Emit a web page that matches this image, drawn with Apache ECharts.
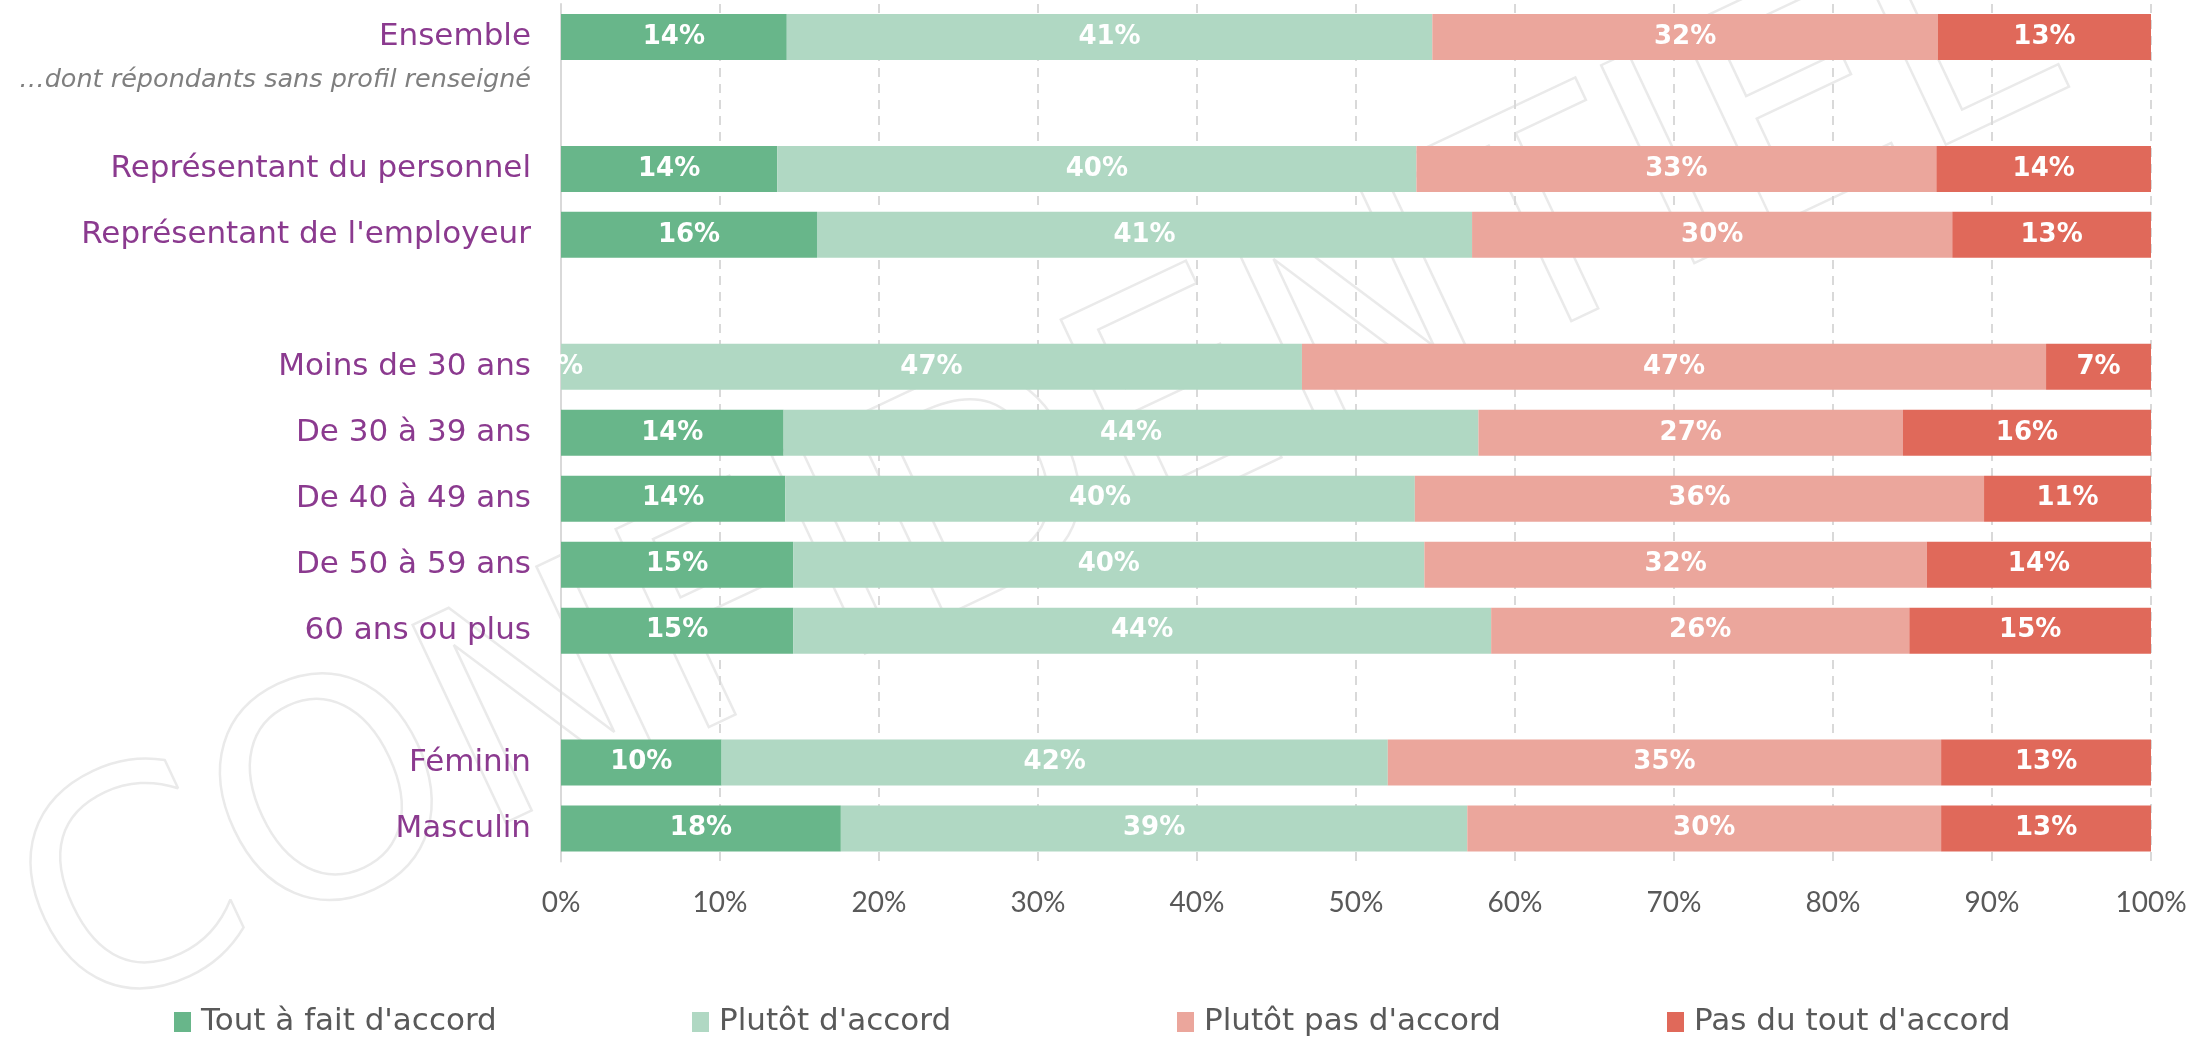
<!DOCTYPE html>
<html><head><meta charset="utf-8">
<script src="https://cdn.jsdelivr.net/npm/echarts@6/dist/echarts.min.js"></script>
<style>html,body{margin:0;padding:0;background:#fff}#c{width:2202px;height:1045px}</style>
</head><body><div id="c"></div>
<script>
const categories = ['Ensemble', '…dont répondants sans profil renseigné', 'Représentant du personnel', "Représentant de l'employeur", ' ', 'Moins de 30 ans', 'De 30 à 39 ans', 'De 40 à 49 ans', 'De 50 à 59 ans', '60 ans ou plus', '  ', 'Féminin', 'Masculin'];
const seriesNames = ["Tout à fait d'accord", "Plutôt d'accord", "Plutôt pas d'accord", "Pas du tout d'accord"];
const toutAFait = [14.2, null, 13.6, 16.1, null, 0, 14.0, 14.1, 14.6, 14.6, null, 10.1, 17.6];
const plutot    = [40.6, null, 40.2, 41.2, null, 46.6, 43.7, 39.6, 39.7, 43.9, null, 41.9, 39.4];
const plutotPas = [31.8, null, 32.7, 30.2, null, 46.8, 26.7, 35.8, 31.6, 26.3, null, 34.8, 29.8];
const pasDuTout = [13.4, null, 13.5, 12.5, null, 6.6, 15.6, 10.5, 14.1, 15.2, null, 13.2, 13.2];
const colors = ['#68B68A', '#B0D8C3', '#EBA69C', '#E0695A'];
const legendLefts = [174, 692, 1177, 1667];
const watermarkText = 'CONFIDENTIEL';

const FONT = 'DejaVu Sans';
const TICKFONT = 'Lato';
const values = [toutAFait, plutot, plutotPas, pasDuTout];

const series = seriesNames.map((name, i) => ({
  name: name,
  type: 'bar',
  stack: 'total',
  barWidth: 46,
  data: values[i],
  itemStyle: { color: colors[i] },
  label: {
    show: true,
    position: 'inside',
    color: '#fff',
    fontFamily: FONT,
    fontWeight: 'bold',
    fontSize: 26,
    formatter: p => (p.value == null ? '' : Math.round(p.value) + '%')
  }
}));

const legends = seriesNames.map((name, i) => ({
  data: [name],
  left: legendLefts[i],
  top: 1006,
  padding: 0,
  itemWidth: 17,
  itemHeight: 20,
  itemGap: 10,
  icon: 'rect',
  textStyle: { color: '#595959', fontSize: 31, fontFamily: FONT, lineHeight: 32, padding: [0, 0, 0, 5] }
}));

const option = {
  animation: false,
  backgroundColor: '#fff',
  grid: { left: 561, right: 51, top: 4, bottom: 183.5, containLabel: false },
  legend: legends,
  graphic: [{
    type: 'text', z: -10, silent: true,
    x: 1040, y: 485, rotation: 0.44,
    style: { text: watermarkText, font: '300px "DejaVu Sans"', fill: 'rgba(0,0,0,0)', stroke: '#EAEAEA', lineWidth: 2.5, align: 'center', verticalAlign: 'middle' }
  }],
  xAxis: {
    type: 'value', min: 0, max: 100, interval: 10,
    axisLine: { show: false }, axisTick: { show: false },
    axisLabel: { formatter: '{value}%', color: '#595959', fontSize: 28, fontFamily: TICKFONT, margin: 27 },
    splitLine: { show: true, lineStyle: { color: '#D9D9D9', width: 2, type: [9, 7] } }
  },
  yAxis: {
    type: 'category', inverse: true, data: categories,
    axisTick: { show: false },
    axisLine: { show: true, lineStyle: { color: '#D9D9D9', width: 2 } },
    axisLabel: {
      color: '#8B3A8F', fontSize: 31, fontFamily: FONT, margin: 30,
      formatter: (v, i) => (i === 1 ? '{sub|' + v + '}' : v),
      rich: { sub: { fontSize: 25.5, fontStyle: 'italic', color: '#7F7F7F', fontFamily: FONT, padding: [0, 0, 46, 0] } }
    }
  },
  series: series
};

const chart = echarts.init(document.getElementById('c'));
chart.setOption(option);
const p = chart.convertToPixel({ gridIndex: 0 }, [0, 5]);
chart.setOption({
  graphic: [option.graphic[0], { type: 'rect', z: 100, silent: true,
    shape: { x: p[0] - 28, y: p[1] - 25, width: 26.5, height: 50 },
    style: { fill: '#fff' } }]
});
</script></body></html>
